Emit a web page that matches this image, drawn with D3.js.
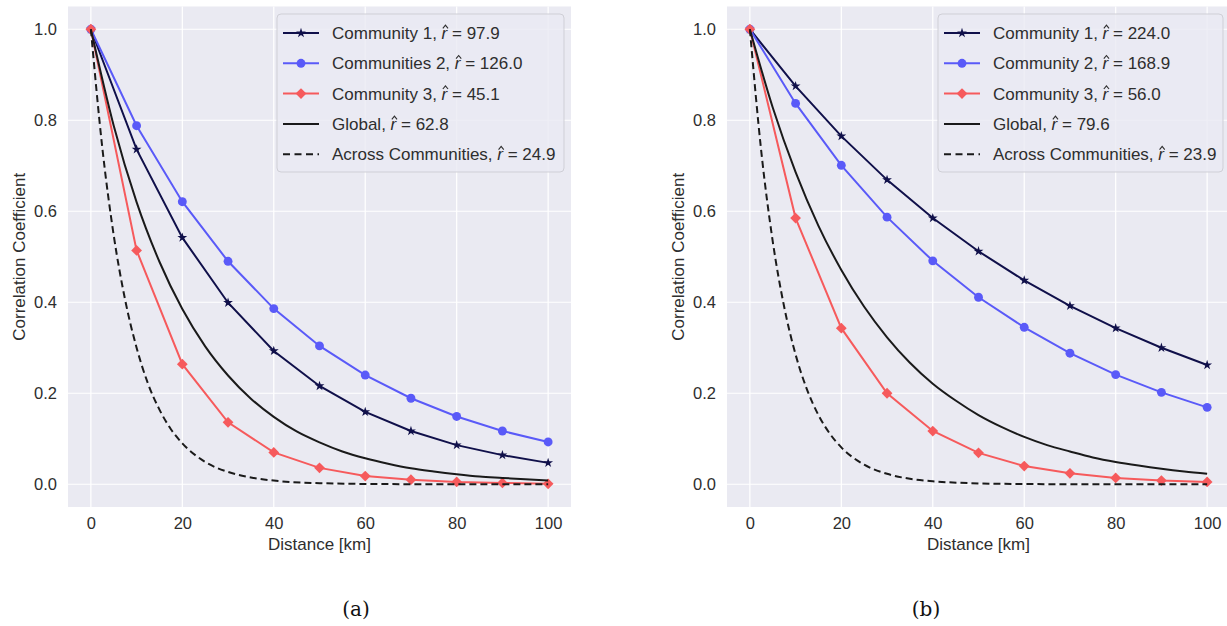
<!DOCTYPE html>
<html>
<head>
<meta charset="utf-8">
<script src="https://cdn.jsdelivr.net/npm/d3@7"></script>
<style>
  body { margin: 0; background: #fff; }
  svg { display: block; font-family: "Liberation Sans", Arial, sans-serif; }
</style>
</head>
<body>
<svg id="chart" width="1227" height="626"></svg>
<script>
// distances where the community curves were sampled
const dist = [0, 10, 20, 30, 40, 50, 60, 70, 80, 90, 100];
const distFine = [0, 5, 10, 15, 20, 25, 30, 35, 40, 45, 50, 55, 60, 65, 70, 75, 80, 85, 90, 95, 100];
const distAcross = [0, 2.5, 5, 7.5, 10, 12.5, 15, 17.5, 20, 25, 30, 35, 40, 50, 60, 70, 80, 90, 100];

// panel (a)
const aComm1 = [1.0, 0.736, 0.542, 0.399, 0.293, 0.216, 0.159, 0.117, 0.086, 0.064, 0.047];
const aComm2 = [1.0, 0.788, 0.621, 0.490, 0.386, 0.304, 0.240, 0.189, 0.149, 0.117, 0.093];
const aComm3 = [1.0, 0.514, 0.264, 0.136, 0.070, 0.036, 0.018, 0.010, 0.005, 0.003, 0.001];
const aGlobal = [1.0, 0.788, 0.620, 0.489, 0.385, 0.303, 0.239, 0.188, 0.148, 0.116, 0.092,
  0.072, 0.057, 0.045, 0.035, 0.028, 0.022, 0.017, 0.014, 0.011, 0.0085];
const aAcross = [1.0, 0.740, 0.547, 0.405, 0.300, 0.221, 0.164, 0.121, 0.090, 0.049, 0.027,
  0.015, 0.008, 0.0024, 0.0007, 0.0002, 0.0001, 0, 0];
// legend labels: [text before r-hat, text after]
const aLabels = [["Community 1, ", " = 97.9"], ["Communities 2, ", " = 126.0"], ["Community 3, ", " = 45.1"],
  ["Global, ", " = 62.8"], ["Across Communities, ", " = 24.9"]];

// panel (b)
const bComm1 = [1.0, 0.875, 0.765, 0.669, 0.585, 0.512, 0.448, 0.392, 0.343, 0.300, 0.262];
const bComm2 = [1.0, 0.837, 0.701, 0.587, 0.491, 0.411, 0.345, 0.288, 0.241, 0.202, 0.169];
const bComm3 = [1.0, 0.585, 0.343, 0.200, 0.117, 0.069, 0.040, 0.024, 0.014, 0.008, 0.005];
const bGlobal = [1.0, 0.828, 0.686, 0.568, 0.471, 0.390, 0.323, 0.267, 0.221, 0.184, 0.152,
  0.126, 0.104, 0.086, 0.072, 0.059, 0.049, 0.041, 0.034, 0.028, 0.023];
const bAcross = [1.0, 0.731, 0.534, 0.390, 0.285, 0.208, 0.152, 0.111, 0.081, 0.043, 0.023,
  0.012, 0.0066, 0.0019, 0.0005, 0.0001, 0, 0, 0];
const bLabels = [["Community 1, ", " = 224.0"], ["Community 2, ", " = 168.9"], ["Community 3, ", " = 56.0"],
  ["Global, ", " = 79.6"], ["Across Communities, ", " = 23.9"]];

const xTicks = [0, 20, 40, 60, 80, 100];
const yTicks = [0.0, 0.2, 0.4, 0.6, 0.8, 1.0];
const colors = ["#10104a", "#5a5af8", "#f65a5c", "#1a1a1a", "#1a1a1a"];
const textColor = "#2e2e2e";

const svg = d3.select("#chart");

function drawPanel(cfg) {
  const g = svg.append("g");
  const x = d3.scaleLinear().domain([-5, 105]).range([cfg.left, cfg.left + 503]);
  const y = d3.scaleLinear().domain([-0.05, 1.05]).range([507, 6.5]);

  const clipId = "clip" + cfg.name;
  svg.append("clipPath").attr("id", clipId)
    .append("rect").attr("x", cfg.left).attr("y", 6.5).attr("width", 503).attr("height", 500.5);

  g.append("rect")
    .attr("x", cfg.left).attr("y", 6.5)
    .attr("width", 503).attr("height", 500.5)
    .attr("fill", "#eaeaf2");

  // grid
  g.append("g").selectAll("line").data(xTicks).join("line")
    .attr("x1", d => x(d)).attr("x2", d => x(d))
    .attr("y1", 6.5).attr("y2", 507)
    .attr("stroke", "#fff").attr("stroke-width", 1.2);
  g.append("g").selectAll("line").data(yTicks).join("line")
    .attr("x1", cfg.left).attr("x2", cfg.left + 503)
    .attr("y1", d => y(d)).attr("y2", d => y(d))
    .attr("stroke", "#fff").attr("stroke-width", 1.2);

  // axes (seaborn style, no domain or tick marks)
  const xAxis = g.append("g").attr("transform", "translate(0,507)")
    .call(d3.axisBottom(x).tickValues(xTicks).tickSize(0).tickPadding(10.5));
  const yAxis = g.append("g").attr("transform", `translate(${cfg.left},0)`)
    .call(d3.axisLeft(y).tickValues(yTicks).tickFormat(d3.format(".1f")).tickSize(0).tickPadding(11));
  [xAxis, yAxis].forEach(a => {
    a.select(".domain").remove();
    a.selectAll("text").attr("fill", textColor).style("font-size", "16.5px")
      .style("font-family", "Liberation Sans, Arial, sans-serif");
  });

  g.append("text")
    .attr("x", x(50)).attr("y", 550)
    .attr("text-anchor", "middle").attr("fill", textColor).style("font-size", "17px")
    .text("Distance [km]");
  g.append("text")
    .attr("transform", `translate(${cfg.left - 43.5},${y(0.5)}) rotate(-90)`)
    .attr("text-anchor", "middle").attr("fill", textColor).style("font-size", "17px")
    .text("Correlation Coefficient");

  const plot = g.append("g").attr("clip-path", `url(#${clipId})`);
  const straight = d3.line().x(d => x(d[0])).y(d => y(d[1]));
  const smooth = d3.line().x(d => x(d[0])).y(d => y(d[1])).curve(d3.curveMonotoneX);

  const series = [cfg.c1, cfg.c2, cfg.c3];
  const symbols = [d3.symbolStar, d3.symbolCircle, d3.symbolSquare];
  const symSizes = [30, 62, 58];
  const symRotate = [0, 0, 45];
  series.forEach((vals, i) => {
    const pts = d3.zip(dist, vals);
    plot.append("path").datum(pts).attr("d", straight)
      .attr("fill", "none").attr("stroke", colors[i]).attr("stroke-width", 2);
    plot.append("g").selectAll("path").data(pts).join("path")
      .attr("transform", d => `translate(${x(d[0])},${y(d[1])}) rotate(${symRotate[i]})`)
      .attr("d", d3.symbol(symbols[i], symSizes[i]))
      .attr("fill", colors[i]);
  });

  plot.append("path").datum(d3.zip(distFine, cfg.global)).attr("d", smooth)
    .attr("fill", "none").attr("stroke", colors[3]).attr("stroke-width", 2);
  plot.append("path").datum(d3.zip(distAcross, cfg.across)).attr("d", smooth)
    .attr("fill", "none").attr("stroke", colors[4]).attr("stroke-width", 2)
    .attr("stroke-dasharray", "7,4");

  // legend
  const lg = g.append("g").attr("transform", `translate(${cfg.legendX},14)`);
  lg.append("rect")
    .attr("width", cfg.legendW).attr("height", 158)
    .attr("rx", 4)
    .attr("fill", "#eaeaf2").attr("fill-opacity", 0.8)
    .attr("stroke", "#cfcfd6").attr("stroke-width", 1);
  const rows = lg.selectAll("g.row").data(cfg.labels).join("g")
    .attr("class", "row")
    .attr("transform", (d, i) => `translate(6,${19 + i * 30.3})`);
  rows.append("line")
    .attr("x1", 0).attr("x2", 36)
    .attr("stroke", (d, i) => colors[i]).attr("stroke-width", 2)
    .attr("stroke-dasharray", (d, i) => i === 4 ? "7,4.5" : null);
  rows.filter((d, i) => i < 3).append("path")
    .attr("transform", (d, i) => `translate(18,0) rotate(${symRotate[i]})`)
    .attr("d", (d, i) => d3.symbol(symbols[i], symSizes[i])())
    .attr("fill", (d, i) => colors[i]);
  const labels = rows.append("text")
    .attr("x", 49).attr("y", 6)
    .attr("fill", textColor).style("font-size", "17px");
  labels.append("tspan").text(d => d[0]);
  labels.append("tspan").style("font-style", "italic").text("r");
  labels.append("tspan").text(d => d[1]);
  // hat over the r
  labels.each(function (d) {
    const box = this.getExtentOfChar(d[0].length);
    const cx = box.x + box.width / 2 + 1;
    d3.select(this.parentNode).append("path")
      .attr("d", `M${cx - 2.6},${-4.6} L${cx},${-7.8} L${cx + 2.6},${-4.6}`)
      .attr("fill", "none").attr("stroke", textColor).attr("stroke-width", 1.1);
  });

  g.append("text")
    .attr("x", cfg.captionX).attr("y", 616)
    .attr("text-anchor", "middle").attr("fill", "#111")
    .style("font-family", "DejaVu Serif, Liberation Serif, serif").style("font-size", "20px")
    .text(cfg.caption);
}

drawPanel({ name: "a", left: 68, c1: aComm1, c2: aComm2, c3: aComm3, global: aGlobal, across: aAcross,
  labels: aLabels, legendX: 277, legendW: 287, caption: "(a)", captionX: 356 });
drawPanel({ name: "b", left: 727, c1: bComm1, c2: bComm2, c3: bComm3, global: bGlobal, across: bAcross,
  labels: bLabels, legendX: 938, legendW: 285, caption: "(b)", captionX: 926 });
</script>
</body>
</html>
